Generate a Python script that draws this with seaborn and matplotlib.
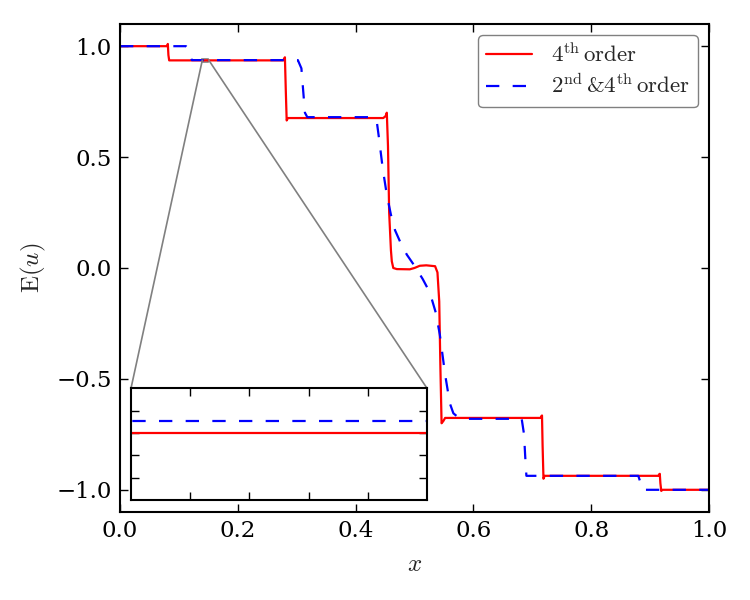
import numpy as np
import pandas as pd
import seaborn as sns
import matplotlib
matplotlib.use('Agg')
import matplotlib.pyplot as plt
from mpl_toolkits.axes_grid1.inset_locator import mark_inset

# breakpoints
red_x = [0.0, 0.0800, 0.0812, 0.0822, 0.0835, 0.2770, 0.2790, 0.2800, 0.2815, 0.2830, 0.2850,
         0.4470, 0.4510, 0.4530, 0.4550, 0.4570, 0.4600, 0.4615, 0.4640, 0.4700, 0.4920,
         0.5000, 0.5090, 0.5200, 0.5350, 0.5390, 0.5420, 0.5440, 0.5460, 0.5490, 0.5520,
         0.7140, 0.7155, 0.7165, 0.7175, 0.7190, 0.7210, 0.9140, 0.9155, 0.9165, 0.9175,
         0.9190, 0.9210, 1.0]
red_y = [1.0, 1.0, 1.010, 0.960, 0.936, 0.936, 0.945, 0.950, 0.800, 0.665, 0.676,
         0.676, 0.685, 0.700, 0.550, 0.250, 0.080, 0.030, 0.000, -0.005, -0.006,
         0.000, 0.010, 0.012, 0.008, -0.020, -0.150, -0.450, -0.700, -0.690, -0.676,
         -0.676, -0.668, -0.665, -0.800, -0.950, -0.937, -0.937, -0.930, -0.928, -0.970,
         -1.005, -1.0, -1.0]

blue_x = [0.0, 0.112, 0.116, 0.119, 0.122, 0.302, 0.308, 0.311, 0.314, 0.318,
          0.430, 0.436, 0.440, 0.446, 0.453, 0.460, 0.467, 0.477, 0.487, 0.500,
          0.514, 0.526, 0.536, 0.543, 0.548, 0.552, 0.560, 0.566, 0.575, 0.585,
          0.682, 0.686, 0.688, 0.690, 0.880, 0.884, 0.887, 1.0]
blue_y = [1.0, 1.0, 0.99, 0.96, 0.9371, 0.9371, 0.90, 0.80, 0.70, 0.68,
          0.68, 0.66, 0.58, 0.45, 0.33, 0.24, 0.17, 0.11, 0.06, 0.01,
          -0.05, -0.11, -0.20, -0.30, -0.40, -0.48, -0.61, -0.655, -0.675, -0.68,
          -0.68, -0.75, -0.85, -0.937, -0.937, -0.97, -1.0, -1.0]

label_4 = r'$4^{\mathrm{th}}\,\mathrm{order}$'
label_24 = r'$2^{\mathrm{nd}}\,\mathrm{&}4^{\mathrm{th}}\,\mathrm{order}$'

sns.set_theme(style='white')
plt.rcParams['font.family'] = 'DejaVu Serif'
plt.rcParams['mathtext.fontset'] = 'cm'
plt.rcParams['axes.edgecolor'] = 'black'
plt.rcParams['axes.linewidth'] = 1.5

red_df = pd.DataFrame({'x': red_x, 'y': red_y})
blue_df = pd.DataFrame({'x': blue_x, 'y': blue_y})

fig, ax = plt.subplots(figsize=(7.5, 6), dpi=100)
fig.subplots_adjust(left=0.16, right=0.9453, bottom=0.1467, top=0.96)

sns.lineplot(data=red_df, x='x', y='y', sort=False, estimator=None, color='red',
             lw=1.6, label=label_4, ax=ax)
sns.lineplot(data=blue_df, x='x', y='y', sort=False, estimator=None, color='blue',
             lw=1.6, dashes=False, label=label_24, ax=ax)
ax.lines[1].set_dashes([6, 6])

ax.set_xlim(0, 1)
ax.set_ylim(-1.1, 1.1)
ax.set_xticks([0.0, 0.2, 0.4, 0.6, 0.8, 1.0])
ax.set_yticks([-1.0, -0.5, 0.0, 0.5, 1.0])
ax.tick_params(direction='in', length=6, width=1, colors='black', labelsize=16.5,
               bottom=True, left=True, top=True, right=True, pad=6)
ax.set_xlabel(r'$x$', fontsize=18, labelpad=8)
ax.set_ylabel(r'$\mathrm{E}(u)$', fontsize=18, labelpad=6)

leg = ax.legend(loc='upper right', fontsize=16.5, fancybox=True, framealpha=1,
                edgecolor='0.5', handlelength=2.0, borderpad=0.35, labelspacing=0.35)
leg.get_frame().set_linewidth(1.0)

# zoomed inset
axins = ax.inset_axes([0.0187, 0.0246, 0.5025, 0.229])
sns.lineplot(data=red_df, x='x', y='y', sort=False, estimator=None, color='red',
             lw=1.6, legend=False, ax=axins)
sns.lineplot(data=blue_df, x='x', y='y', sort=False, estimator=None, color='blue',
             lw=1.6, legend=False, ax=axins)
axins.lines[1].set_dashes([6, 6])
axins.set_xlim(0.14, 0.15)
axins.set_ylim(0.930, 0.940)
axins.set_xticks([0.142, 0.144, 0.146, 0.148])
axins.set_yticks([0.932, 0.934, 0.936, 0.938])
axins.tick_params(direction='in', length=6, width=1, colors='black',
                  bottom=True, left=True, top=True, right=True,
                  labelbottom=False, labelleft=False)
axins.set_xlabel('')
axins.set_ylabel('')
for sp in axins.spines.values():
    sp.set_linewidth(1.5)

mark_inset(ax, axins, loc1=2, loc2=1, fc='none', ec='0.5', lw=1.2)

fig.savefig('out.png', dpi=100)
